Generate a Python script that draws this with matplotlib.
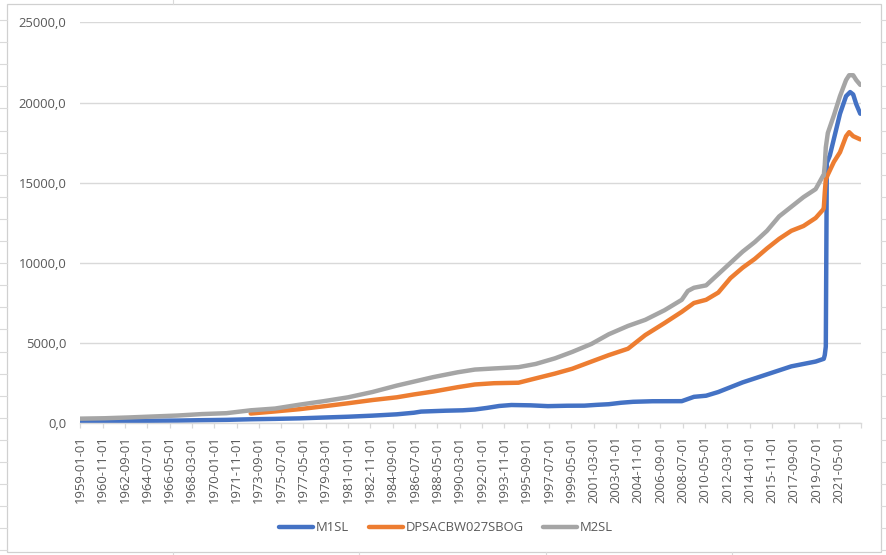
import matplotlib
matplotlib.use("Agg")
import matplotlib.pyplot as plt
from matplotlib.lines import Line2D
from matplotlib.patches import Rectangle

# ---------------- data ----------------
m1_dates = ["1959-01","1961-01","1963-01","1965-01","1967-01","1969-01","1971-01","1973-01",
            "1975-01","1977-01","1979-01","1981-01","1983-01","1985-01","1986-06","1987-01",
            "1989-01","1990-06","1991-06","1992-06","1993-06","1994-06","1996-01","1997-06",
            "1999-01","2000-06","2001-06","2002-06","2003-06","2004-06","2006-01","2008-06",
            "2008-10","2009-06","2010-06","2011-06","2012-06","2013-06","2014-06","2015-06",
            "2016-06","2017-06","2018-06","2019-06","2020-02","2020-03","2020-04","2020-05",
            "2020-08","2021-01","2021-06","2021-12","2022-04","2022-07","2022-10","2023-02"]
m1_values = [139,141,149,160,171,195,215,252,
             276,308,360,410,477,560,660,730,
             785,810,860,960,1080,1140,1120,1070,
             1095,1100,1150,1190,1280,1340,1375,1380,
             1470,1650,1720,1950,2250,2550,2800,3050,
             3300,3550,3700,3850,4020,4260,4780,16230,
             16700,18000,19300,20400,20650,20500,19900,19300]

dps_dates = ["1973-01","1975-01","1977-01","1979-01","1981-01","1983-01","1985-01","1986-06",
             "1988-01","1990-01","1991-06","1993-01","1995-01","1996-06","1998-01","1999-06",
             "2001-01","2002-06","2004-01","2005-06","2007-01","2008-06","2009-06","2010-06",
             "2011-06","2012-06","2013-06","2014-06","2015-06","2016-06","2017-06","2018-06",
             "2019-06","2020-01","2020-02","2020-03","2020-04","2020-06","2020-12","2021-06",
             "2021-12","2022-03","2022-07","2023-02"]
dps_values = [610,740,880,1060,1250,1450,1620,1800,
              1980,2250,2420,2500,2530,2800,3100,3400,
              3850,4250,4650,5500,6250,6950,7500,7700,
              8150,9050,9700,10250,10900,11500,12000,12300,
              12800,13300,13400,14400,15200,15500,16300,16900,
              17900,18150,17900,17700]

m2_dates = ["1959-01","1961-01","1963-01","1965-01","1967-01","1969-01","1971-01","1973-01",
            "1975-01","1977-01","1979-01","1981-01","1983-01","1985-01","1986-06","1988-01",
            "1990-01","1991-06","1993-01","1995-01","1996-06","1998-01","1999-06","2001-01",
            "2002-06","2004-01","2005-06","2007-01","2008-06","2008-12","2009-06","2010-06",
            "2011-06","2012-06","2013-06","2014-06","2015-06","2016-06","2017-06","2018-06",
            "2019-06","2020-01","2020-02","2020-03","2020-04","2020-06","2020-12","2021-06",
            "2021-12","2022-03","2022-07","2022-10","2023-02"]
m2_values = [290,315,365,425,485,575,630,810,
             920,1160,1380,1620,1950,2350,2600,2880,
             3180,3350,3420,3500,3700,4050,4450,4950,
             5550,6070,6450,7050,7700,8250,8450,8600,
             9300,10000,10700,11300,12000,12900,13500,14100,
             14600,15400,15450,16100,17200,18100,19200,20400,
             21400,21700,21700,21400,21100]

series_names = ["M1SL", "DPSACBW027SBOG", "M2SL"]
axis_start = "1959-01"
axis_end = "2023-03"
label_step_months = 22
last_label = "2021-05"
y_ticks = [0, 5000, 10000, 15000, 20000, 25000]


def month_index(d):
    y, m = d.split("-")
    y0, m0 = axis_start.split("-")
    return (int(y) - int(y0)) * 12 + (int(m) - int(m0))


def month_label(i):
    y0, m0 = axis_start.split("-")
    tot = int(y0) * 12 + int(m0) - 1 + i
    return f"{tot // 12:04d}-{tot % 12 + 1:02d}-01"


# ---------------- figure ----------------
W, H = 886, 555
fig = plt.figure(figsize=(W / 100, H / 100), dpi=100)
fig.patch.set_facecolor("white")
FONT = ["Open Sans", "DejaVu Sans"]
TXT = "#595959"
GRID = "#D9D9D9"

def fx(px):
    return px / W

def fy(py):
    return 1 - py / H

# spreadsheet decorations outside the chart
sheet = "#DADADA"
for k in range(26):
    yy = 20 + 22.1 * k
    if yy < 552:
        fig.add_artist(Line2D([fx(0), fx(6.7)], [fy(yy), fy(yy)], color=sheet, lw=0.8))
        fig.add_artist(Line2D([fx(880.7), fx(886)], [fy(yy), fy(yy)], color=sheet, lw=0.8))
fig.add_artist(Line2D([fx(173), fx(173)], [fy(0), fy(4.3)], color=sheet, lw=0.8))
for xx in [173, 359, 546, 732]:
    fig.add_artist(Line2D([fx(xx), fx(xx)], [fy(552), fy(555)], color=sheet, lw=0.8))
fig.add_artist(Rectangle((fx(6.7), fy(552)), fx(880.7) - fx(6.7), fy(4.3) - fy(552),
                         fill=False, edgecolor="#D0D0D0", lw=0.9))

left, right, top, bottom = 80.3, 861.3, 22.3, 423.3
ax = fig.add_axes([fx(left), fy(bottom), fx(right) - fx(left), fy(top) - fy(bottom)])
ax.set_facecolor("none")

colors = ["#4472C4", "#ED7D31", "#A5A5A5"]
data = [(m1_dates, m1_values), (dps_dates, dps_values), (m2_dates, m2_values)]
for (dates, vals), name, c in zip(data, series_names, colors):
    xs = [month_index(d) for d in dates]
    ax.plot(xs, vals, color=c, lw=3.2, label=name, solid_joinstyle="round",
            solid_capstyle="round")

x_end = month_index(axis_end)
ax.set_xlim(0, x_end)
ax.set_ylim(y_ticks[0], y_ticks[-1])

ax.set_yticks(y_ticks)
ax.set_yticklabels([f"{v:.1f}".replace(".", ",") for v in y_ticks])
ax.yaxis.grid(True, color=GRID, lw=1.0)
ax.set_axisbelow(True)

tick_pos = list(range(0, x_end + 1, label_step_months))
last_i = month_index(last_label)
ax.set_xticks(tick_pos)
ax.set_xticklabels([month_label(i) if i <= last_i else "" for i in tick_pos], rotation=90)

for s in ["top", "right", "left"]:
    ax.spines[s].set_visible(False)
ax.spines["bottom"].set_color(GRID)
ax.spines["bottom"].set_linewidth(1.0)

ax.tick_params(axis="y", length=0, pad=10, labelsize=9.4, labelcolor=TXT)
ax.tick_params(axis="x", length=3.6, width=0.9, color=GRID, pad=5, labelsize=9.4,
               labelcolor=TXT, direction="out")
for lab in ax.get_xticklabels() + ax.get_yticklabels():
    lab.set_family(FONT)

leg = fig.legend(*ax.get_legend_handles_labels(), loc="center", ncol=3,
                 bbox_to_anchor=(fx(446), fy(527.7)), frameon=False,
                 handlelength=2.6, handletextpad=0.2, columnspacing=1.5,
                 prop={"family": FONT, "size": 9.4})
for t in leg.get_texts():
    t.set_color(TXT)

fig.savefig("out.png", dpi=100)
